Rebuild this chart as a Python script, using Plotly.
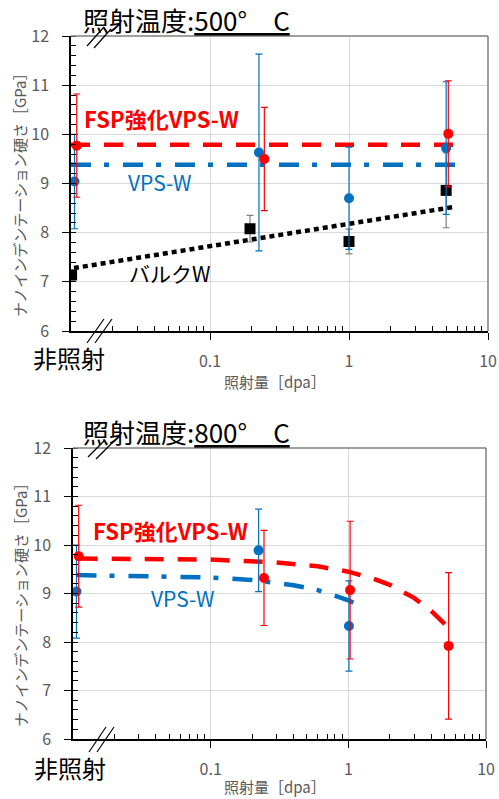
import plotly.graph_objects as go

W, H = 499, 799

# ---------------- data: 500 C ----------------
t_red_x = [0.011, 0.246, 5.18]
t_red_y = [9.77, 9.50, 10.01]
t_red_e = [1.05, 1.05, 1.08]
t_blue_x = [0.0106, 0.225, 1.0, 5.0]
t_blue_y = [9.04, 9.63, 8.70, 9.72]
t_blue_e = [0.96, 2.0, 1.04, 1.35]
t_blk_x = [0.0101, 0.194, 1.0, 5.0]
t_blk_y = [7.14, 8.08, 7.82, 8.86]
t_blk_e = [0.1, 0.27, 0.25, 0.76]
t_red_fit_x = [0.01, 5.9]
t_red_fit_y = [9.79, 9.79]
t_blue_fit_x = [0.01, 5.9]
t_blue_fit_y = [9.38, 9.38]
t_blk_fit_x = [0.0105, 5.6]
t_blk_fit_y = [7.28, 8.52]

# ---------------- data: 800 C ----------------
b_red_x = [0.011, 0.244, 1.03, 5.35]
b_red_y = [9.77, 9.32, 9.07, 7.92]
b_red_e = [1.05, 0.98, 1.42, 1.51]
b_blue_x = [0.0106, 0.223, 1.01]
b_blue_y = [9.04, 9.89, 8.33]
b_blue_e = [0.96, 0.85, 0.93]
b_red_fit_x = [0.011, 0.1, 0.3, 0.6, 1.0, 1.5, 2.0, 3.0, 4.0, 5.1]
b_red_fit_y = [9.72, 9.70, 9.64, 9.56, 9.45, 9.31, 9.18, 8.91, 8.64, 8.35]
b_blue_fit_x = [0.0106, 0.1, 0.2, 0.4, 0.6, 0.8, 1.0, 1.3]
b_blue_fit_y = [9.38, 9.33, 9.28, 9.17, 9.07, 8.96, 8.86, 8.70]

x_tickvals = [0.1, 1, 10]
x_ticktext = ["0.1", "1", "10"]
x_minor = [0.02, 0.03, 0.04, 0.05, 0.06, 0.07, 0.08, 0.09,
           0.2, 0.3, 0.4, 0.5, 0.6, 0.7, 0.8, 0.9,
           2, 3, 4, 5, 6, 7, 8, 9]

RED = "#FF0000"
BLUE = "#0070C0"
BLACK = "#000000"
GRAY = "#595959"
FONT = "Noto Sans CJK JP"


def px(x):
    return x / W


def py(y):
    return 1 - y / H


fig = go.Figure()


def fit(x, y, color, dash, xa, ya):
    fig.add_trace(go.Scatter(x=x, y=y, mode="lines", xaxis=xa, yaxis=ya,
                             line=dict(color=color, width=4.5, dash=dash),
                             hoverinfo="skip", showlegend=False))


def pts(x, y, e, color, ecolor, symbol, size, xa, ya):
    fig.add_trace(go.Scatter(x=x, y=y, mode="markers", xaxis=xa, yaxis=ya,
                             marker=dict(color=color, size=size, symbol=symbol),
                             error_y=dict(type="data", array=e, color=ecolor,
                                          thickness=1.2, width=3.5),
                             showlegend=False))


RED_DASH = "19px,14px"
BLUE_DASH = "20px,13px,5px,14px"
DOT = "5px,4px"

# top
fit(t_red_fit_x, t_red_fit_y, RED, RED_DASH, "x", "y")
fit(t_blue_fit_x, t_blue_fit_y, BLUE, BLUE_DASH, "x", "y")
fit(t_blk_fit_x, t_blk_fit_y, BLACK, DOT, "x", "y")
pts(t_blk_x, t_blk_y, t_blk_e, BLACK, "#808080", "square", 11, "x", "y")
pts(t_blue_x, t_blue_y, t_blue_e, BLUE, BLUE, "circle", 10, "x", "y")
pts(t_red_x, t_red_y, t_red_e, RED, RED, "circle", 10, "x", "y")

# bottom
fit(b_red_fit_x, b_red_fit_y, RED, RED_DASH, "x2", "y2")
fit(b_blue_fit_x, b_blue_fit_y, BLUE, BLUE_DASH, "x2", "y2")
pts(b_blue_x, b_blue_y, b_blue_e, BLUE, BLUE, "circle", 10, "x2", "y2")
pts(b_red_x, b_red_y, b_red_e, RED, RED, "circle", 10, "x2", "y2")


def xaxis_cfg(dom, anchor):
    return dict(type="log", range=[-2, 1], domain=dom, anchor=anchor,
                automargin=False,
                tickmode="array", tickvals=x_tickvals, ticktext=x_ticktext,
                ticks="outside", ticklen=7, tickwidth=1.2, tickcolor=BLACK,
                showline=True, linecolor=BLACK, linewidth=1.5,
                showgrid=True, gridcolor="#D9D9D9", gridwidth=1,
                tickfont=dict(family=FONT, size=16, color=GRAY),
                ticklabelstandoff=8, zeroline=False,
                minor=dict(tickmode="array", tickvals=x_minor, ticks="inside",
                           ticklen=5, tickwidth=1, tickcolor=BLACK, showgrid=False))


def yaxis_cfg(dom, anchor):
    return dict(range=[6, 12], domain=dom, anchor=anchor, dtick=1,
                automargin=False,
                ticks="outside", ticklen=7, tickwidth=1.2, tickcolor=BLACK,
                showline=True, linecolor=BLACK, linewidth=1.5,
                showgrid=True, gridcolor="#D9D9D9", gridwidth=1,
                tickfont=dict(family=FONT, size=16, color=GRAY),
                ticklabelstandoff=10, zeroline=False,
                minor=dict(dtick=0.2, ticks="inside", ticklen=5, tickwidth=1,
                           tickcolor=BLACK, showgrid=False))


fig.update_layout(
    width=W, height=H, margin=dict(l=0, r=0, t=0, b=0, pad=0),
    paper_bgcolor="white", plot_bgcolor="white",
    font=dict(family=FONT),
    xaxis=xaxis_cfg([px(71), px(488)], "y"),
    yaxis=yaxis_cfg([py(331), py(36)], "x"),
    xaxis2=xaxis_cfg([px(73), px(486)], "y2"),
    yaxis2=yaxis_cfg([py(739), py(448)], "x2"),
)

shapes = []
# top/right borders
for (l, r, t, b) in [(71, 488, 36, 331), (73, 486, 448, 739)]:
    shapes.append(dict(type="line", xref="paper", yref="paper",
                       x0=px(l), x1=px(r), y0=py(t), y1=py(t),
                       line=dict(color="#7F7F7F", width=1.5)))
    shapes.append(dict(type="line", xref="paper", yref="paper",
                       x0=px(r), x1=px(r), y0=py(t), y1=py(b),
                       line=dict(color="#7F7F7F", width=1.5)))
# break marks
breaks = [
    ((87, 46, 104, 27), (94, 48, 111, 29)),
    ((87, 343, 104, 319), (95, 343, 112, 319)),
    ((88, 457, 105, 440), (96, 459, 113, 442)),
    ((89, 752, 106, 727), (97, 752, 114, 727)),
]
for pair in breaks:
    for (x0, y0, x1, y1) in pair:
        shapes.append(dict(type="line", xref="paper", yref="paper",
                           x0=px(x0), x1=px(x1), y0=py(y0), y1=py(y1),
                           line=dict(color=BLACK, width=1.2)))

ann = []


def text(t, x, y, size, color, anchor="left", bold=False, angle=0):
    ann.append(dict(text=("<b>%s</b>" % t) if bold else t, x=px(x), y=py(y),
                    xref="paper", yref="paper", xanchor=anchor, yanchor="middle",
                    showarrow=False, textangle=angle,
                    font=dict(family=FONT, size=size, color=color)))


# titles
text("照射温度:<u>500°　C</u>", 81, 19, 26, BLACK)
text("照射温度:<u>800°　C</u>", 81, 431, 26, BLACK)
# unirradiated labels
text("非照射", 69, 357, 24, BLACK, anchor="center")
text("非照射", 70, 767, 24, BLACK, anchor="center")
# axis titles
text("照射量［dpa］", 275, 382, 15, GRAY, anchor="center")
text("照射量［dpa］", 275, 786, 15, GRAY, anchor="center")
text("ナノインデンテーション硬さ［GPa］", 20, 191, 15, GRAY, anchor="center", angle=-90)
text("ナノインデンテーション硬さ［GPa］", 20, 601, 15, GRAY, anchor="center", angle=-90)
# series labels
text("FSP強化VPS-W", 82, 118, 22, RED, bold=True)
text("VPS-W", 126, 182, 21, BLUE)
text("バルクW", 127, 273, 21, BLACK)
text("FSP強化VPS-W", 91, 530, 22, RED, bold=True)
text("VPS-W", 149, 598, 21, BLUE)

fig.update_layout(shapes=shapes, annotations=ann)
fig.write_html("out.html", config={"displayModeBar": False},
               post_script="document.body.style.margin='0px';"
                           "document.body.style.overflow='hidden';")
